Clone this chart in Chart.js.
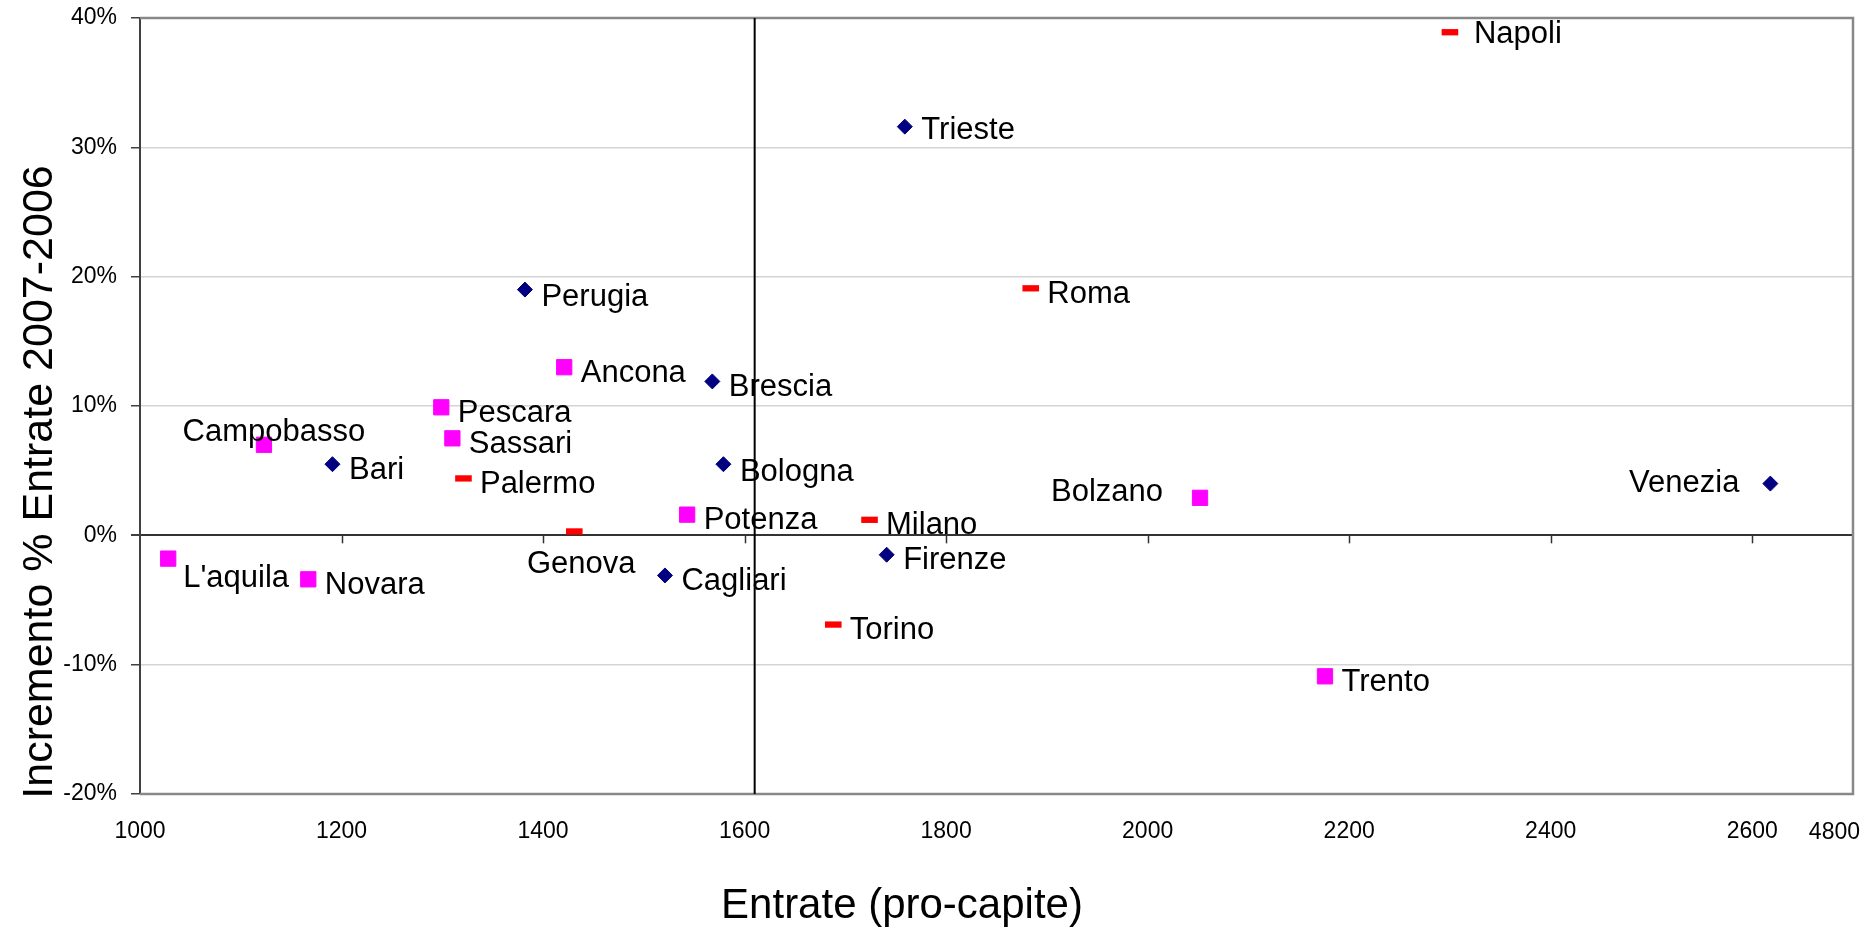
<!DOCTYPE html>
<html>
<head>
<meta charset="utf-8">
<title>Entrate pro-capite vs incremento</title>
<script src="https://cdn.jsdelivr.net/npm/chart.js@4.4.1/dist/chart.umd.min.js"></script>
<style>
    html, body { margin: 0; padding: 0; background: #ffffff; }
    canvas { display: block; }
</style>
</head>
<body>
<canvas id="scatter" width="1876" height="928"></canvas>
<script>
// ---- data ----
// navy diamonds
const blueCities = ['Perugia', 'Trieste', 'Brescia', 'Bologna', 'Bari', 'Cagliari', 'Firenze', 'Venezia'];
const blueEntrate = [1382, 1759, 1568, 1579, 1191, 1521, 1741, 2618];
const blueIncremento = [19.0, 31.6, 11.9, 5.5, 5.5, -3.1, -1.5, 4.0];

// magenta squares
const pinkCities = ['Ancona', 'Pescara', 'Sassari', 'Campobasso', 'Potenza', "L'aquila", 'Novara', 'Bolzano', 'Trento'];
const pinkEntrate = [1421, 1299, 1310, 1123, 1543, 1028, 1167, 2052, 2176];
const pinkIncremento = [13.0, 9.9, 7.5, 7.0, 1.6, -1.8, -3.4, 2.9, -10.9];

// red dashes
const redCities = ['Napoli', 'Roma', 'Palermo', 'Genova', 'Milano', 'Torino'];
const redEntrate = [2300, 1884, 1321, 1431, 1724, 1688];
const redIncremento = [38.9, 19.1, 4.4, 0.3, 1.2, -6.9];

// axes
const xMin = 1000;
const xMax = 2700;
const xTicks = [1000, 1200, 1400, 1600, 1800, 2000, 2200, 2400, 2600];
const xEndLabel = '4800';
const yTicks = [-20, -10, 0, 10, 20, 30, 40];
const avgEntrate = 1610;   // vertical reference line

const xTitle = 'Entrate (pro-capite)';
const yTitle = 'Incremento % Entrate 2007-2006';

const FONT = '"Liberation Sans", Arial, sans-serif';

// where each city name sits next to its marker (default: right of it)
const labelPlace = {
    'Napoli': { dx: 24, dy: 2 },
    'Trieste': { dy: 4 },
    'Perugia': { dy: 8 },
    'Bologna': { dy: 8 },
    "L'aquila": { dx: 15, dy: 20 },
    'Campobasso': { align: 'center', dx: 10, dy: -12 },
    'Genova': { align: 'center', dx: 7, dy: 33 },
    'Bolzano': { align: 'right', dx: -37, dy: -5 },
    'Venezia': { align: 'right', dx: -31, dy: 0 }
};

function toPoints(xs, ys) {
    return xs.map((v, i) => ({ x: v, y: ys[i] }));
}

// draws frame, reference line, zero-line ticks, point labels and titles
const decorPlugin = {
    id: 'decor',
    beforeDatasetsDraw(chart) {
        const { ctx, chartArea: a, scales: { x, y } } = chart;
        ctx.save();

        // gray frame (top, right, bottom)
        ctx.strokeStyle = '#888888';
        ctx.lineWidth = 2.5;
        ctx.beginPath();
        ctx.moveTo(a.left, a.top);
        ctx.lineTo(a.right, a.top);
        ctx.lineTo(a.right, a.bottom);
        ctx.lineTo(a.left, a.bottom);
        ctx.stroke();

        // tick marks hanging from the zero line
        const y0 = y.getPixelForValue(0);
        ctx.strokeStyle = '#333333';
        ctx.lineWidth = 1.5;
        xTicks.forEach(v => {
            if (v === xMin) return;
            const px = Math.round(x.getPixelForValue(v)) + 0.5;
            ctx.beginPath();
            ctx.moveTo(px, y0);
            ctx.lineTo(px, y0 + 8);
            ctx.stroke();
        });

        // vertical reference line
        const vx = x.getPixelForValue(avgEntrate);
        ctx.strokeStyle = '#000000';
        ctx.lineWidth = 2;
        ctx.beginPath();
        ctx.moveTo(vx, a.top);
        ctx.lineTo(vx, a.bottom);
        ctx.stroke();

        ctx.restore();
    },
    afterDatasetsDraw(chart) {
        const { ctx } = chart;
        ctx.save();
        ctx.fillStyle = '#000000';
        ctx.font = '31px ' + FONT;
        ctx.textBaseline = 'middle';
        chart.data.datasets.forEach((ds, i) => {
            const meta = chart.getDatasetMeta(i);
            meta.data.forEach((pt, j) => {
                const name = ds.cities[j];
                const p = Object.assign({ align: 'left', dx: 16.5, dy: 6 }, labelPlace[name] || {});
                ctx.textAlign = p.align;
                ctx.fillText(name, pt.x + p.dx, pt.y + p.dy);
            });
        });
        ctx.restore();
    },
    afterDraw(chart) {
        const { ctx, chartArea: a } = chart;
        ctx.save();
        ctx.fillStyle = '#000000';

        // last tick label on the far right
        ctx.font = '23px ' + FONT;
        ctx.textAlign = 'right';
        ctx.textBaseline = 'alphabetic';
        ctx.fillText(xEndLabel, a.right + 7, 839);

        // x axis title
        ctx.font = '42px ' + FONT;
        ctx.textAlign = 'center';
        ctx.fillText(xTitle, 902, 918);

        // y axis title
        ctx.translate(40, 482);
        ctx.rotate(-Math.PI / 2);
        ctx.font = '43px ' + FONT;
        ctx.textBaseline = 'middle';
        ctx.fillText(yTitle, 0, 0);

        ctx.restore();
    }
};

document.addEventListener('DOMContentLoaded', function() {
    const ctx = document.getElementById('scatter').getContext('2d');

    new Chart(ctx, {
        type: 'scatter',
        data: {
            datasets: [
                {
                    label: 'A',
                    cities: blueCities,
                    data: toPoints(blueEntrate, blueIncremento),
                    pointStyle: 'rectRot',
                    pointRadius: 7.5,
                    backgroundColor: '#000080',
                    borderColor: '#000080',
                    pointBorderWidth: 1
                },
                {
                    label: 'B',
                    cities: pinkCities,
                    data: toPoints(pinkEntrate, pinkIncremento),
                    pointStyle: 'rect',
                    pointRadius: 10.8,
                    backgroundColor: '#ff00ff',
                    borderColor: '#ff00ff',
                    pointBorderWidth: 1
                },
                {
                    label: 'C',
                    cities: redCities,
                    data: toPoints(redEntrate, redIncremento),
                    pointStyle: 'line',
                    pointRadius: 8.3,
                    backgroundColor: '#ff0000',
                    borderColor: '#ff0000',
                    pointBorderWidth: 6.3
                }
            ]
        },
        options: {
            responsive: false,
            animation: false,
            devicePixelRatio: 1,
            layout: {
                padding: { top: 18, right: 23, left: 0, bottom: 0 }
            },
            plugins: {
                legend: { display: false },
                tooltip: { enabled: false }
            },
            scales: {
                x: {
                    type: 'linear',
                    min: xMin,
                    max: xMax,
                    afterBuildTicks: scale => {
                        scale.ticks = xTicks.map(v => ({ value: v }));
                    },
                    afterFit: scale => {
                        scale.height = 134;
                        scale.paddingLeft = 0;
                        scale.paddingRight = 0;
                    },
                    grid: { display: false, drawTicks: false },
                    border: { display: false },
                    ticks: {
                        padding: 24,
                        color: '#000000',
                        font: { family: FONT, size: 23 },
                        maxRotation: 0,
                        autoSkip: false,
                        callback: v => String(v)
                    }
                },
                y: {
                    type: 'linear',
                    min: -20,
                    max: 40,
                    afterBuildTicks: scale => {
                        scale.ticks = yTicks.map(v => ({ value: v }));
                    },
                    afterFit: scale => {
                        scale.width = 140;
                        scale.paddingTop = 0;
                        scale.paddingBottom = 0;
                    },
                    grid: {
                        color: c => c.tick && c.tick.value === 0 ? '#333333' : '#d4d4d4',
                        lineWidth: c => c.tick && c.tick.value === 0 ? 2 : 1.5,
                        tickColor: '#404040',
                        tickLength: 9,
                        drawTicks: true
                    },
                    border: { display: true, color: '#404040', width: 2 },
                    ticks: {
                        padding: 14,
                        color: '#000000',
                        font: { family: FONT, size: 23 },
                        callback: v => v + '%'
                    }
                }
            }
        },
        plugins: [decorPlugin]
    });
});
</script>
</body>
</html>
